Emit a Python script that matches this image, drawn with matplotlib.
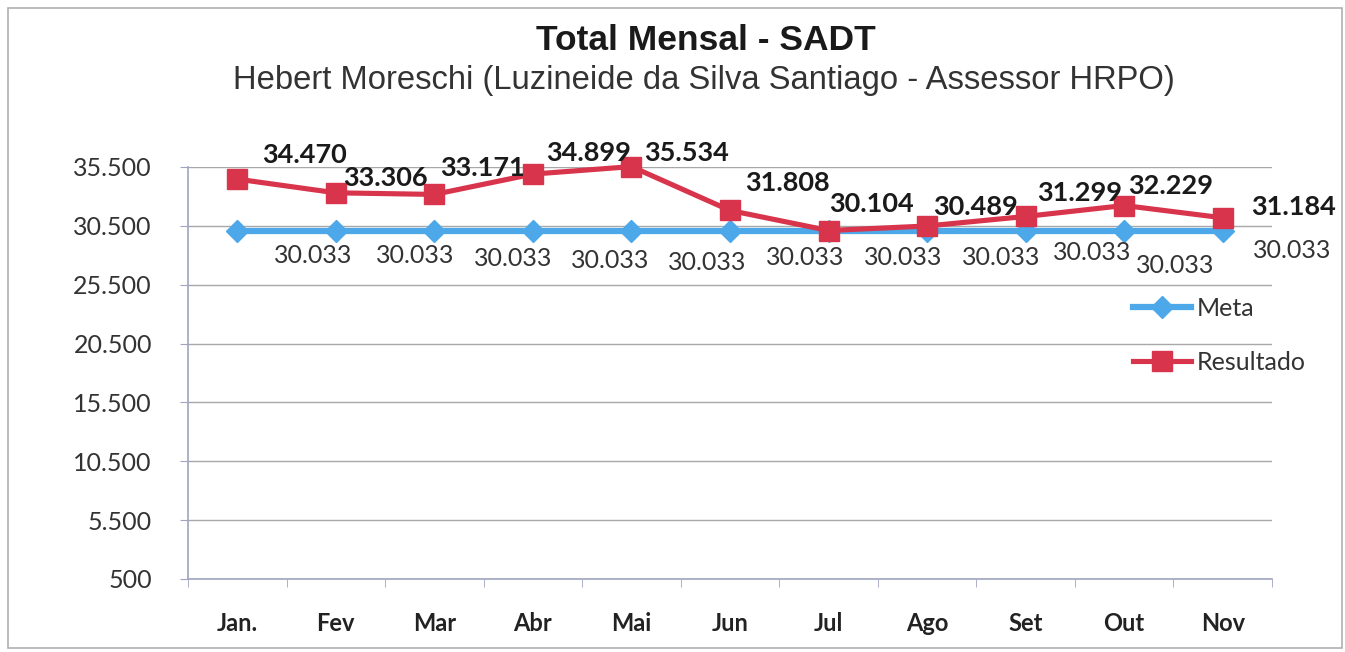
import matplotlib.pyplot as plt
from matplotlib.patches import Rectangle
from matplotlib.ticker import FixedLocator, FuncFormatter

# dados do grafico
meses = ['Jan.', 'Fev', 'Mar', 'Abr', 'Mai', 'Jun', 'Jul', 'Ago', 'Set', 'Out', 'Nov']
meta = [30033, 30033, 30033, 30033, 30033, 30033, 30033, 30033, 30033, 30033, 30033]
resultado = [34470, 33306, 33171, 34899, 35534, 31808, 30104, 30489, 31299, 32229, 31184]
y_ticks = [500, 5500, 10500, 15500, 20500, 25500, 30500, 35500]

# deslocamento dos rotulos (pixels)
res_dx = [67, 50, 48, 56, 55, 57, 43, 48, 54, 46, 71]
res_dy = [24, 15, 26, 21, 14, 27, 27, 19, 23, 20, 11]
meta_dx = [76, 79, 79, 77, 76, 75, 75, 74, 67, 51, 69]
meta_dy = [-24, -24, -27, -29, -31, -26, -26, -26, -21, -34, -19]

AZUL = '#4DA8EA'
VERMELHO = '#D8344C'
num_font = 'Lato'

def fmt_br(v, pos=None):
    return f'{int(v):,}'.replace(',', '.')

fig = plt.figure(figsize=(13.45, 6.52), dpi=100)
ax = fig.add_axes([188 / 1345, 1 - 579 / 652, (1272 - 188) / 1345, (579 - 167) / 652])

x = list(range(len(meses)))
ax.plot(x, meta, color=AZUL, lw=4.5, marker='D', ms=11, label='Meta',
        clip_on=False, zorder=3)
ax.plot(x, resultado, color=VERMELHO, lw=3.7, marker='s', ms=15, label='Resultado',
        clip_on=False, zorder=4)

for i, v in enumerate(resultado):
    ax.annotate(fmt_br(v), (x[i], v), xytext=(res_dx[i], res_dy[i]),
                textcoords='offset pixels', ha='center', va='center',
                fontsize=19.5, fontweight='bold', family=num_font, color='#1a1a1a',
                zorder=5)
for i, v in enumerate(meta):
    ax.annotate(fmt_br(v), (x[i], v), xytext=(meta_dx[i], meta_dy[i]),
                textcoords='offset pixels', ha='center', va='center',
                fontsize=18, family=num_font, color='#333333', zorder=5)

ax.set_xlim(-0.5, len(meses) - 0.5)
ax.set_ylim(500, 35500)
ax.yaxis.set_major_locator(FixedLocator(y_ticks))
ax.yaxis.set_major_formatter(FuncFormatter(fmt_br))
ax.set_xticks(x)
ax.set_xticklabels(meses)
ax.set_xticks([i - 0.5 for i in range(len(meses) + 1)], minor=True)

ax.grid(axis='y', color='#A8A8A8', lw=1.0)
ax.set_axisbelow(True)
for s in ['top', 'right']:
    ax.spines[s].set_visible(False)
for s in ['left', 'bottom']:
    ax.spines[s].set_color('#A0A4C0')
    ax.spines[s].set_linewidth(1.2)

ax.tick_params(axis='y', length=6, color='#A0A4C0', pad=20, labelsize=18,
               labelcolor='#333333')
ax.tick_params(axis='x', which='major', length=0, pad=24, labelsize=17,
               labelcolor='#222222')
ax.tick_params(axis='x', which='minor', length=6, color='#A0A4C0')
for lab in ax.get_yticklabels():
    lab.set_family(num_font)
for lab in ax.get_xticklabels():
    lab.set_family(num_font)
    lab.set_fontweight('bold')

leg = ax.legend(loc='upper left', bbox_to_anchor=(1133 / 1345, 1 - 297 / 652),
                bbox_transform=fig.transFigure, frameon=False, borderpad=0,
                borderaxespad=0, handlelength=2.3, handletextpad=0.25,
                labelspacing=1.25, prop={'family': num_font, 'size': 18})
for t in leg.get_texts():
    t.set_color('#333333')

fig.text(0.525, 1 - 41 / 652, 'Total Mensal - SADT', ha='center', va='center',
         fontsize=25.5, fontweight='bold', family='Liberation Sans', color='#1a1a1a')
fig.text(0.523, 1 - 80 / 652,
         'Hebert Moreschi (Luzineide da Silva Santiago - Assessor HRPO)',
         ha='center', va='center', fontsize=23.6, family='Liberation Sans',
         color='#333333')

# moldura do grafico
fig.patches.append(Rectangle((8 / 1345, 4 / 652), 1334 / 1345, 640 / 652,
                             transform=fig.transFigure, fill=False,
                             edgecolor='#B0B0B0', lw=1.2))

fig.savefig('out.png', dpi=100)
